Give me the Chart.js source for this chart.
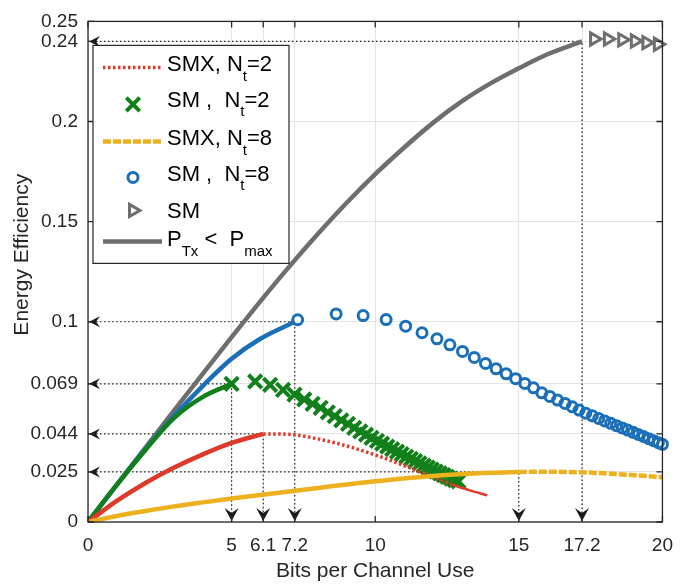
<!DOCTYPE html>
<html>
<head>
<meta charset="utf-8">
<script src="https://cdn.jsdelivr.net/npm/chart.js@4/dist/chart.umd.min.js"></script>
<style>
  html, body { margin: 0; padding: 0; background: #fff; }
  canvas { display: block; }
</style>
</head>
<body>
<canvas id="eeChart" width="685" height="584"></canvas>
<script>
const FONT = "'Liberation Sans', Arial, Helvetica, sans-serif";

// axis ticks
const xTicks = [0, 5, 6.1, 7.2, 10, 15, 17.2, 20];
const xTickLabels = ['0', '5', '6.1', '7.2', '10', '15', '17.2', '20'];
const yTicks = [0, 0.025, 0.044, 0.069, 0.1, 0.15, 0.2, 0.24, 0.25];
const yTickLabels = ['0', '0.025', '0.044', '0.069', '0.1', '0.15', '0.2', '0.24', '0.25'];

// optimum points marked with dotted guides
const guideX = [17.2, 7.2, 5, 6.1, 15];
const guideY = [0.24, 0.1, 0.069, 0.044, 0.025];

// P_Tx < P_max envelope
const envX = [0, 1, 2, 3, 4, 5, 6, 7, 8, 9, 10, 11, 12, 13, 14, 15, 16, 17.2];
const envY = [0, 0.0186, 0.0372, 0.0557, 0.0741, 0.0923, 0.1102, 0.1274, 0.1438, 0.1593, 0.1737, 0.1869, 0.1992, 0.2099, 0.2189, 0.2266, 0.2336, 0.240];

// SM, Nt=8 below P_max (solid) and circle markers
const sm8LineX = [0, 1, 2, 3, 4, 5, 6, 7.2];
const sm8LineY = [0, 0.0185, 0.0365, 0.053, 0.068, 0.0815, 0.0915, 0.1];
const sm8X = [7.3, 8.64, 9.58, 10.38, 11.06, 11.63, 12.15, 12.6, 13.04, 13.45, 13.84, 14.21, 14.56, 14.89, 15.21, 15.51, 15.8, 16.08, 16.35, 16.61, 16.86, 17.1, 17.33, 17.56, 17.78, 17.99, 18.2, 18.4, 18.6, 18.79, 18.98, 19.16, 19.34, 19.52, 19.69, 19.86, 20.0];
const sm8Y = [0.101, 0.1039, 0.1031, 0.1011, 0.0978, 0.0945, 0.0915, 0.0885, 0.0852, 0.0822, 0.0792, 0.0765, 0.074, 0.0716, 0.0692, 0.067, 0.0645, 0.0627, 0.0609, 0.0592, 0.0575, 0.0559, 0.0543, 0.053, 0.0517, 0.0505, 0.0493, 0.0481, 0.047, 0.0459, 0.0448, 0.0437, 0.0427, 0.0416, 0.0406, 0.0396, 0.0388];

// SM, Nt=2 solid part and cross markers
const sm2LineX = [0, 1, 2, 3, 4, 5];
const sm2LineY = [0, 0.0185, 0.036, 0.052, 0.0625, 0.069];
const sm2X = [5.0, 5.82, 6.34, 6.79, 7.19, 7.53, 7.82, 8.1, 8.35, 8.59, 8.82, 9.05, 9.27, 9.48, 9.68, 9.87, 10.06, 10.24, 10.42, 10.59, 10.76, 10.92, 11.08, 11.24, 11.39, 11.54, 11.69, 11.83, 11.97, 12.11, 12.25, 12.38, 12.51, 12.64, 12.77, 12.9];
const sm2Y = [0.069, 0.0702, 0.0685, 0.066, 0.0636, 0.0612, 0.059, 0.057, 0.0548, 0.0529, 0.0508, 0.049, 0.047, 0.0452, 0.0436, 0.042, 0.0405, 0.0391, 0.0377, 0.0364, 0.0351, 0.0339, 0.0327, 0.0315, 0.0304, 0.0293, 0.0282, 0.0272, 0.0262, 0.0252, 0.0243, 0.0234, 0.0225, 0.0217, 0.0209, 0.0203];

// SMX, Nt=2
const smx2X = [0, 1, 2, 3, 4, 5, 6.1];
const smx2Y = [0, 0.0105, 0.0195, 0.0272, 0.0338, 0.0395, 0.044];
const smx2DotX = [6.1, 7, 8, 9, 10, 11, 12, 12.7];
const smx2DotY = [0.044, 0.0438, 0.0415, 0.038, 0.0335, 0.0282, 0.0225, 0.0185];
const smx2TailX = [12.7, 13.3, 13.9];
const smx2TailY = [0.0185, 0.0158, 0.0133];

// SMX, Nt=8
const smx8X = [0, 1, 2, 3, 4, 5, 6, 8, 10, 12, 14, 15];
const smx8Y = [0, 0.003, 0.0055, 0.0078, 0.0098, 0.0117, 0.0135, 0.017, 0.0203, 0.023, 0.0246, 0.025];
const smx8DashX = [15, 16, 17.2, 18, 19, 20];
const smx8DashY = [0.025, 0.0251, 0.0248, 0.0243, 0.0234, 0.0223];

// SM at P_max (triangles)
const triX = [17.62, 18.1, 18.6, 19.04, 19.44, 19.84];
const triY = [0.2412, 0.2412, 0.2408, 0.2402, 0.2394, 0.2386];

const RED = '#de3a2b', GREEN = '#12801a', YELLOW = '#edb120', BLUE = '#1b6fb8', GRAY = '#6e6e6e';

function pts(xs, ys) {
    return xs.map((x, i) => ({ x: x, y: ys[i] }));
}

function curve(label, xs, ys, color, width, dash, order) {
    return {
        label: label, data: pts(xs, ys), borderColor: color, borderWidth: width,
        borderDash: dash || [], pointRadius: 0, cubicInterpolationMode: 'monotone',
        fill: false, order: order
    };
}

function markers(label, xs, ys, color, style, radius, width, rotation, order) {
    return {
        label: label, data: pts(xs, ys), showLine: false, pointStyle: style,
        pointRadius: radius, pointBorderWidth: width, pointRotation: rotation || 0,
        pointBorderColor: color, pointBackgroundColor: 'rgba(0,0,0,0)',
        borderColor: color, backgroundColor: 'rgba(0,0,0,0)', clip: false, order: order
    };
}

const datasets = [
    curve('smx8', smx8X, smx8Y, YELLOW, 4.5, null, 1),
    curve('smx8dash', smx8DashX, smx8DashY, YELLOW, 4.5, [8, 2], 1),
    curve('smx2', smx2DotX, smx2DotY, RED, 3.5, [2.5, 2.5], 2),
    curve('smx2solid', smx2X, smx2Y, RED, 4.5, null, 2),
    curve('smx2tail', smx2TailX, smx2TailY, RED, 2.5, null, 2),
    markers('sm2', sm2X, sm2Y, GREEN, 'crossRot', 9.5, 4, 0, 3),
    markers('sm8', sm8X, sm8Y, BLUE, 'circle', 5, 3, 0, 4),
    markers('smTri', triX, triY, GRAY, 'triangle', 7, 3, 90, 4),
    curve('sm2line', sm2LineX, sm2LineY, GREEN, 4.5, null, 5),
    curve('sm8line', sm8LineX, sm8LineY, BLUE, 4.5, null, 6),
    curve('ptx', envX, envY, GRAY, 4.5, null, 7)
];

const legendRows = [
    { ds: 'smx2', parts: [['SMX, N'], ['t', 1], ['=2']] },
    { ds: 'sm2', parts: [['SM ,  N'], ['t', 1], ['=2']] },
    { ds: 'smx8dash', parts: [['SMX, N'], ['t', 1], ['=8']] },
    { ds: 'sm8', parts: [['SM ,  N'], ['t', 1], ['=8']] },
    { ds: 'smTri', parts: [['SM']] },
    { ds: 'ptx', parts: [['P'], ['Tx', 1], [' <  P'], ['max', 1]] }
];

// dotted guides from the optimum points to both axes
const guides = {
    id: 'guides',
    beforeDatasetsDraw(chart) {
        const { ctx, chartArea: a, scales: { x, y } } = chart;
        ctx.save();
        ctx.strokeStyle = '#222';
        ctx.lineWidth = 1.2;
        ctx.setLineDash([1.5, 2.5]);
        guideX.forEach((gx, i) => {
            const px = x.getPixelForValue(gx), py = y.getPixelForValue(guideY[i]);
            ctx.beginPath();
            ctx.moveTo(a.left, py);
            ctx.lineTo(px, py);
            ctx.lineTo(px, a.bottom);
            ctx.stroke();
        });
        ctx.restore();
    },
    afterDatasetsDraw(chart) {
        const { ctx, chartArea: a, scales: { x, y } } = chart;
        ctx.save();
        ctx.fillStyle = '#1a1a1a';
        guideX.forEach((gx, i) => {
            const px = x.getPixelForValue(gx), py = y.getPixelForValue(guideY[i]);
            // arrow on x axis pointing down
            ctx.beginPath();
            ctx.moveTo(px, a.bottom - 1);
            ctx.lineTo(px - 7, a.bottom - 14);
            ctx.lineTo(px, a.bottom - 9);
            ctx.lineTo(px + 7, a.bottom - 14);
            ctx.closePath();
            ctx.fill();
            // arrow on y axis pointing left
            ctx.beginPath();
            ctx.moveTo(a.left + 1, py);
            ctx.lineTo(a.left + 12, py - 5.5);
            ctx.lineTo(a.left + 8, py);
            ctx.lineTo(a.left + 12, py + 5.5);
            ctx.closePath();
            ctx.fill();
        });
        ctx.restore();
    }
};

// box around the axes with inward ticks on all sides, plus the y title
const frame = {
    id: 'frame',
    afterDraw(chart) {
        const { ctx, chartArea: a, scales: { x, y } } = chart;
        ctx.save();
        ctx.strokeStyle = '#262626';
        ctx.lineWidth = 1.3;
        ctx.beginPath();
        x.ticks.forEach(t => {
            const px = x.getPixelForValue(t.value);
            ctx.moveTo(px, a.bottom); ctx.lineTo(px, a.bottom - 6);
            ctx.moveTo(px, a.top); ctx.lineTo(px, a.top + 6);
        });
        y.ticks.forEach(t => {
            const py = y.getPixelForValue(t.value);
            ctx.moveTo(a.left, py); ctx.lineTo(a.left + 6, py);
            ctx.moveTo(a.right, py); ctx.lineTo(a.right - 6, py);
        });
        ctx.stroke();
        ctx.strokeRect(a.left, a.top, a.right - a.left, a.bottom - a.top);

        ctx.translate(a.left - 66, (a.top + a.bottom) / 2 - 17);
        ctx.rotate(-Math.PI / 2);
        ctx.font = '21px ' + FONT;
        ctx.fillStyle = '#262626';
        ctx.textAlign = 'center';
        ctx.textBaseline = 'middle';
        ctx.fillText('Energy Efficiency', 0, 0);
        ctx.restore();
    }
};

// legend with subscripts
const legendBox = {
    id: 'legendBox',
    afterDraw(chart) {
        const { ctx, chartArea: a } = chart;
        const bx = a.left + 5, by = a.top + 24, bw = 196, bh = 218;
        const sampleY = [22, 59, 96, 132, 165, 196];
        const textY = [26, 61.5, 100, 135.5, 172.5, 201];
        ctx.save();
        ctx.fillStyle = '#fff';
        ctx.fillRect(bx, by, bw, bh);
        ctx.strokeStyle = '#262626';
        ctx.lineWidth = 1.2;
        ctx.strokeRect(bx, by, bw, bh);
        legendRows.forEach((row, i) => {
            const ds = chart.data.datasets.find(d => d.label === row.ds);
            const cy = by + sampleY[i];
            if (ds.showLine === false) {
                ctx.strokeStyle = ds.pointBorderColor;
                ctx.fillStyle = 'rgba(0,0,0,0)';
                ctx.lineWidth = ds.pointBorderWidth;
                ctx.setLineDash([]);
                Chart.helpers.drawPoint(ctx, {
                    pointStyle: ds.pointStyle, rotation: ds.pointRotation,
                    radius: ds.pointRadius, borderWidth: ds.pointBorderWidth
                }, bx + 40, cy);
            } else {
                ctx.strokeStyle = ds.borderColor;
                ctx.lineWidth = ds.borderWidth;
                ctx.setLineDash(ds.borderDash);
                ctx.beginPath();
                ctx.moveTo(bx + 10, cy);
                ctx.lineTo(bx + 69, cy);
                ctx.stroke();
            }
            ctx.setLineDash([]);
            let tx = bx + 74;
            const base = by + textY[i];
            ctx.fillStyle = '#000';
            ctx.textAlign = 'left';
            ctx.textBaseline = 'alphabetic';
            row.parts.forEach(([t, sub]) => {
                ctx.font = (sub ? 15 : 22) + 'px ' + FONT;
                ctx.fillText(t, tx, sub ? base + 9.5 : base);
                tx += ctx.measureText(t).width;
            });
        });
        ctx.restore();
    }
};

const ctx = document.getElementById('eeChart').getContext('2d');
new Chart(ctx, {
    type: 'line',
    data: { datasets: datasets },
    options: {
        responsive: false,
        animation: false,
        layout: { padding: { top: 16, right: 12, left: 0, bottom: 0 } },
        plugins: { legend: { display: false }, tooltip: { enabled: false } },
        scales: {
            x: {
                type: 'linear', min: 0, max: 20,
                afterBuildTicks: s => { s.ticks = xTicks.map(v => ({ value: v })); },
                afterFit: s => { s.height = 62; },
                grid: { color: '#e4e4e4', lineWidth: 1, drawTicks: false },
                border: { display: false },
                ticks: {
                    autoSkip: false, maxRotation: 0, padding: 12, color: '#262626',
                    font: { size: 19, family: FONT },
                    callback: (v, i) => xTickLabels[i]
                },
                title: {
                    display: true, text: 'Bits per Channel Use', color: '#262626',
                    font: { size: 21, family: FONT }, padding: 0
                }
            },
            y: {
                type: 'linear', min: 0, max: 0.25,
                afterBuildTicks: s => { s.ticks = yTicks.map(v => ({ value: v })); },
                afterFit: s => { s.width = 88; },
                grid: { color: '#e4e4e4', lineWidth: 1, drawTicks: false },
                border: { display: false },
                ticks: {
                    autoSkip: false, padding: 10, color: '#262626',
                    font: { size: 19, family: FONT },
                    callback: (v, i) => yTickLabels[i]
                }
            }
        }
    },
    plugins: [guides, frame, legendBox]
});
</script>
</body>
</html>
